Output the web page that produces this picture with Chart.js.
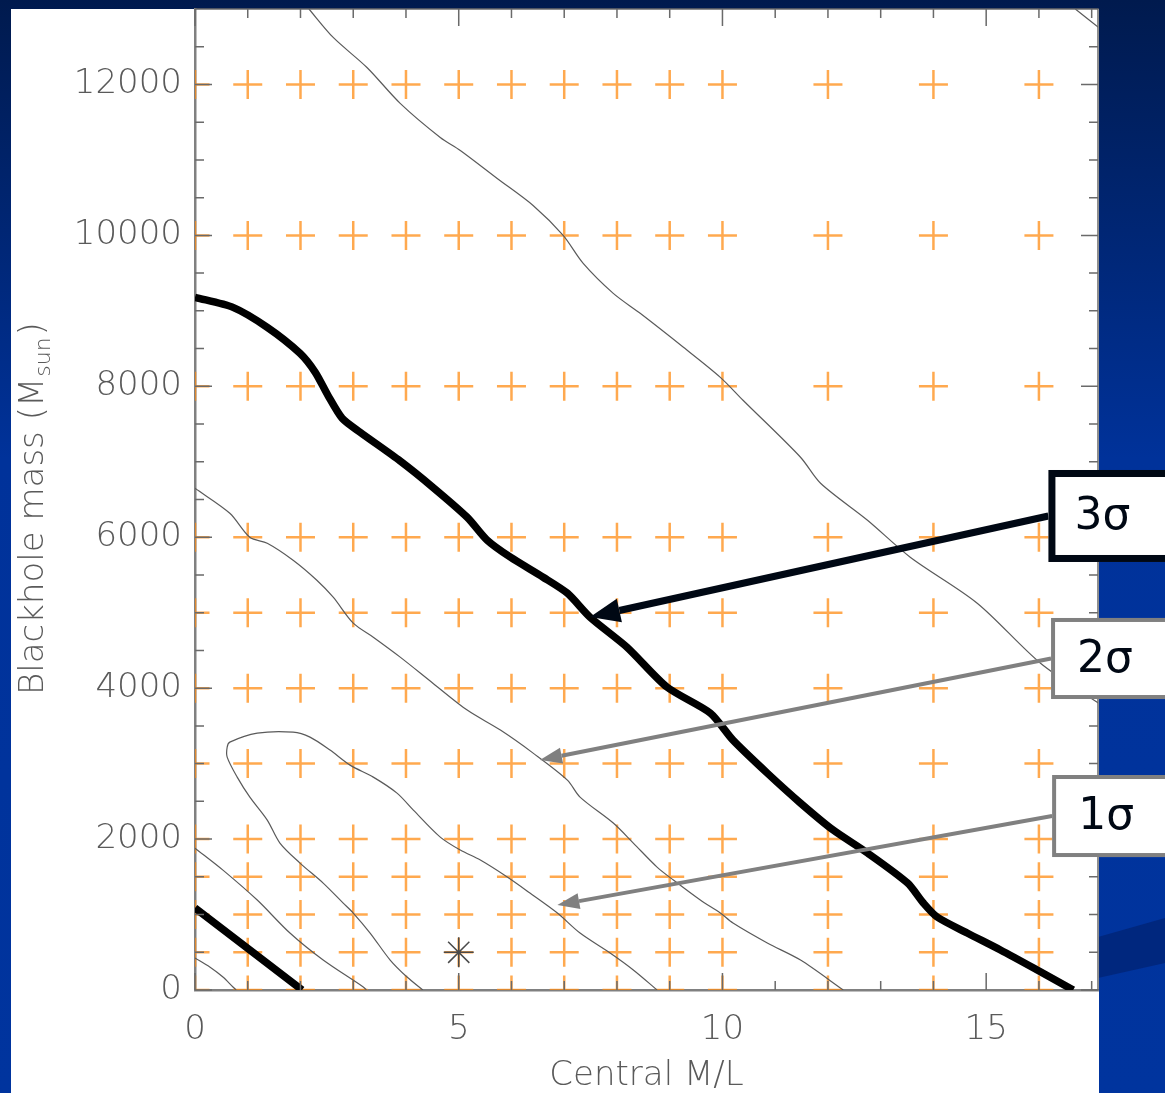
<!DOCTYPE html>
<html>
<head>
<meta charset="utf-8">
<title>Blackhole mass vs central M/L</title>
<script src="https://cdn.jsdelivr.net/npm/chart.js@4.4.1/dist/chart.umd.min.js"></script>
<style>
    html, body { margin: 0; padding: 0; background: #00339c; overflow: hidden; }
    #wrap { width: 1165px; height: 1093px; }
</style>
</head>
<body>
<div id="wrap"><canvas id="Contours" width="1165" height="1093"></canvas></div>
<script>
// model grid (orange crosses)
const grid_x = [0, 1, 2, 3, 4, 5, 6, 7, 8, 9, 10, 12, 14, 16];
const grid_y = [0, 500, 1000, 1500, 2000, 3000, 4000, 5000, 6000, 8000, 10000, 12000];

// best fit (asterisk)
const best_fit = [[5, 500]];

// contours as [M/L, M_bh]
const contour_outer = [
    [2.16, 13000], [2.62, 12623], [3.26, 12225], [3.89, 11750], [4.65, 11298], [5.03, 11126],
    [5.73, 10755], [6.41, 10397], [6.98, 10000], [7.36, 9629], [7.93, 9232], [8.44, 8967],
    [9.26, 8517], [9.96, 8119], [10.39, 7815], [11.48, 7060], [11.86, 6715], [12.75, 6225],
    [13.56, 5735], [14.83, 5126], [16.03, 4331], [17.13, 3801]
];
const contour_corner = [[16.69, 13000], [17.13, 12755]];
const contour_3sigma = [
    [0, 9179], [0.72, 9046], [1.37, 8781], [1.99, 8437], [2.28, 8185], [2.52, 7880],
    [2.79, 7576], [3.13, 7391], [3.89, 7010], [4.51, 6662], [5.16, 6265],
    [5.54, 5960], [5.98, 5735], [6.60, 5470], [7.06, 5258], [7.49, 4940], [8.19, 4543],
    [8.95, 4013], [9.77, 3669], [10.20, 3311], [10.85, 2874], [11.48, 2477], [12.10, 2119],
    [12.75, 1815], [13.51, 1417], [13.81, 1152], [14.07, 967], [14.64, 755], [15.27, 530],
    [15.90, 291], [16.65, 0]
];
const contour_3sigma_low = [[0, 1086], [1.04, 530], [2.03, 0]];
const contour_2sigma = [
    [0, 6649], [0.66, 6318], [1.04, 6000], [1.37, 5920], [1.86, 5695], [2.31, 5430],
    [2.62, 5205], [3.00, 4861], [3.38, 4675], [3.89, 4411], [4.51, 4066], [5.16, 3709],
    [5.79, 3444], [6.41, 3139], [7.06, 2781], [7.30, 2556], [7.93, 2212], [8.31, 1947],
    [8.76, 1629], [9.07, 1457], [9.58, 1192], [9.96, 1020], [10.20, 887], [10.85, 623],
    [11.48, 397], [12.29, 0]
];
const contour_1sigma = [
    [4.32, 0], [4.02, 172], [3.70, 397], [3.32, 755], [3.00, 1020], [2.81, 1152],
    [2.43, 1417], [1.99, 1682], [1.61, 1947], [1.37, 2252], [1.04, 2556], [0.80, 2821],
    [0.61, 3086], [0.61, 3219], [0.66, 3285], [1.18, 3404], [1.86, 3417], [2.18, 3351],
    [2.56, 3179], [2.94, 2980], [3.38, 2821], [3.83, 2609], [4.14, 2384], [4.65, 2026],
    [5.03, 1854], [5.41, 1722], [5.92, 1497], [6.35, 1285], [6.87, 1020], [7.30, 755],
    [7.87, 490], [8.31, 265], [8.76, 0]
];
const contour_inner = [[0, 1880], [0.53, 1589], [1.18, 1192], [1.80, 755], [2.43, 397], [3.19, 40], [3.25, 0]];
const contour_tiny = [[0, 424], [0.28, 305], [0.53, 172], [0.72, 40], [0.78, 0]];

// axes
const x_ticks = [0, 5, 10, 15];
const y_ticks = [0, 2000, 4000, 6000, 8000, 10000, 12000];
const x_range = [0, 17.12];
const y_range = [0, 13000];

// labels with arrows
const sigma_labels = ['3σ', '2σ', '1σ'];
const sigma_tips = [[7.49, 4943], [6.54, 3048], [6.87, 1126]];

let grid_points = [];
for (const gy of grid_y) {
    for (const gx of grid_x) {
        grid_points.push({x: gx, y: gy});
    }
}

const toXY = (arr) => arr.map(p => ({x: p[0], y: p[1]}));

function contour(data, width, color, tension) {
    return {
        data: toXY(data),
        showLine: true,
        borderColor: color,
        borderWidth: width,
        pointRadius: 0,
        tension: tension,
        borderJoinStyle: 'round',
        order: 1,
    }
}

const slideBackground = {
    id: 'slideBackground',
    beforeDraw(chart) {
        const {ctx, width, height, chartArea} = chart;
        ctx.save();
        const g = ctx.createLinearGradient(0, 0, 0, height);
        g.addColorStop(0, '#001a4e');
        g.addColorStop(0.42, '#00329a');
        g.addColorStop(1, '#00349e');
        ctx.fillStyle = g;
        ctx.fillRect(0, 0, width, height);
        // darker swoosh on the right
        ctx.fillStyle = 'rgba(0, 30, 100, 0.55)';
        ctx.beginPath();
        ctx.moveTo(chartArea.right, 937);
        ctx.lineTo(width, 918);
        ctx.lineTo(width, 963);
        ctx.lineTo(chartArea.right, 978);
        ctx.closePath();
        ctx.fill();
        ctx.fillStyle = '#ffffff';
        ctx.fillRect(11, chartArea.top, chartArea.right + 1 - 11, height - chartArea.top);
        ctx.restore();
    }
};

const frameTicks = {
    id: 'frameTicks',
    afterDatasetsDraw(chart) {
        const {ctx, chartArea: a, scales: {x, y}} = chart;
        ctx.save();
        ctx.strokeStyle = '#6a6a6a';
        ctx.lineWidth = 1.5;
        ctx.beginPath();
        ctx.moveTo(a.left, a.top);
        ctx.lineTo(a.right, a.top);
        ctx.lineTo(a.right, a.bottom);
        ctx.stroke();
        for (let v = 0; v <= x_range[1]; v += 1) {
            const px = x.getPixelForValue(v);
            const len = x_ticks.includes(v) ? 17 : 9;
            ctx.beginPath();
            ctx.moveTo(px, a.bottom);
            ctx.lineTo(px, a.bottom - len);
            ctx.moveTo(px, a.top);
            ctx.lineTo(px, a.top + len);
            ctx.stroke();
        }
        for (let v = 0; v < y_range[1]; v += 500) {
            const py = y.getPixelForValue(v);
            const len = y_ticks.includes(v) ? 17 : 9;
            ctx.beginPath();
            ctx.moveTo(a.left, py);
            ctx.lineTo(a.left + len, py);
            ctx.moveTo(a.right, py);
            ctx.lineTo(a.right - len, py);
            ctx.stroke();
        }
        ctx.restore();
    }
};

const yTitle = {
    id: 'yTitle',
    afterDraw(chart) {
        const {ctx, chartArea} = chart;
        ctx.save();
        ctx.translate(43, chartArea.bottom - 295);
        ctx.rotate(-Math.PI / 2);
        ctx.fillStyle = '#5a5a5a';
        ctx.textBaseline = 'alphabetic';
        ctx.textAlign = 'left';
        ctx.font = '200 34px "DejaVu Sans"';
        const main = 'Blackhole mass (M';
        ctx.fillText(main, 0, 0);
        let w = ctx.measureText(main).width;
        ctx.font = '200 22px "DejaVu Sans"';
        ctx.fillText('sun', w + 1, 7);
        w += ctx.measureText('sun').width + 3;
        ctx.font = '200 34px "DejaVu Sans"';
        ctx.fillText(')', w, 0);
        ctx.restore();
    }
};

const sigmaArrows = {
    id: 'sigmaArrows',
    afterDraw(chart, args, opts) {
        const {ctx, width, scales: {x, y}} = chart;
        ctx.save();
        opts.boxes.forEach((b, i) => {
            const left = x.getPixelForValue(b.left);
            const top = y.getPixelForValue(b.top);
            const bottom = y.getPixelForValue(b.bottom);
            const mid = (top + bottom) / 2;
            const tx = x.getPixelForValue(sigma_tips[i][0]);
            const ty = y.getPixelForValue(sigma_tips[i][1]);
            // arrow shaft
            const ang = Math.atan2(ty - mid, tx - left);
            const hx = tx - Math.cos(ang) * b.head;
            const hy = ty - Math.sin(ang) * b.head;
            ctx.strokeStyle = b.color;
            ctx.fillStyle = b.color;
            ctx.lineWidth = b.line;
            ctx.beginPath();
            ctx.moveTo(left, mid);
            ctx.lineTo(hx, hy);
            ctx.stroke();
            // arrow head
            const px = -Math.sin(ang) * b.half, py = Math.cos(ang) * b.half;
            ctx.beginPath();
            ctx.moveTo(tx, ty);
            ctx.lineTo(hx + px, hy + py);
            ctx.lineTo(hx - px, hy - py);
            ctx.closePath();
            ctx.fill();
            // label box
            ctx.fillStyle = '#ffffff';
            ctx.fillRect(left, top, width + 20 - left, bottom - top);
            ctx.lineWidth = b.border;
            ctx.strokeRect(left + b.border / 2, top + b.border / 2, width + 20 - left, bottom - top - b.border);
            ctx.fillStyle = '#000814';
            ctx.font = '44px "DejaVu Sans"';
            ctx.textAlign = 'center';
            ctx.textBaseline = 'middle';
            ctx.fillText(sigma_labels[i], left + 54, mid + 2);
        });
        ctx.restore();
    }
};

const tickFont = {family: '"DejaVu Sans"', size: 34, weight: '200', lineHeight: 1};

new Chart(
    document.getElementById('Contours'),
    {
        type: 'scatter',
        data: {
            datasets: [
                contour(contour_outer, 1.2, '#5a5a5a', 0.3),
                contour(contour_corner, 1.2, '#5a5a5a', 0.3),
                contour(contour_2sigma, 1.2, '#5a5a5a', 0.3),
                contour(contour_1sigma, 1.2, '#5a5a5a', 0.3),
                contour(contour_inner, 1.2, '#5a5a5a', 0.3),
                contour(contour_tiny, 1.2, '#5a5a5a', 0.3),
                contour(contour_3sigma, 7.5, '#000000', 0.25),
                contour(contour_3sigma_low, 7.5, '#000000', 0.25),
                {
                    data: toXY(best_fit),
                    pointStyle: 'star',
                    pointRadius: 15,
                    borderColor: '#4a4a4a',
                    borderWidth: 1.5,
                    order: 2,
                },
                {
                    data: grid_points,
                    pointStyle: 'cross',
                    pointRadius: 14.5,
                    borderColor: 'rgba(255, 140, 20, 0.75)',
                    borderWidth: 2.5,
                    order: 3,
                },
            ]
        },
        options: {
            responsive: false,
            animation: false,
            events: [],
            layout: {
                autoPadding: false,
                padding: {left: 11, top: 9, right: 67, bottom: 0}
            },
            scales: {
                x: {
                    type: 'linear',
                    min: x_range[0],
                    max: x_range[1],
                    afterBuildTicks: (scale) => {
                        scale.ticks = x_ticks.map(v => ({value: v}));
                    },
                    afterFit: (scale) => {
                        scale.height = 103;
                        scale.paddingLeft = 0;
                        scale.paddingRight = 0;
                    },
                    grid: {display: false, drawTicks: false},
                    border: {display: true, color: '#808080', width: 2.5},
                    ticks: {
                        autoSkip: false,
                        maxRotation: 0,
                        padding: 23,
                        color: '#5a5a5a',
                        font: tickFont,
                        callback: (value) => value.toString(),
                    },
                    title: {
                        display: true,
                        text: 'Central M/L',
                        color: '#5a5a5a',
                        font: {family: '"DejaVu Sans"', size: 34, weight: '200', lineHeight: 1},
                        padding: {top: 0, bottom: 0},
                    }
                },
                y: {
                    type: 'linear',
                    min: y_range[0],
                    max: y_range[1],
                    afterBuildTicks: (scale) => {
                        scale.ticks = y_ticks.map(v => ({value: v}));
                    },
                    afterFit: (scale) => {
                        scale.width = 184;
                        scale.paddingTop = 0;
                        scale.paddingBottom = 0;
                    },
                    grid: {display: false, drawTicks: false},
                    border: {display: true, color: '#808080', width: 2.5},
                    ticks: {
                        autoSkip: false,
                        padding: 13,
                        color: '#5a5a5a',
                        font: tickFont,
                        callback: (value) => value.toString(),
                    }
                }
            },
            plugins: {
                legend: {display: false},
                tooltip: {enabled: false},
                sigmaArrows: {
                    boxes: [
                        {left: 16.18, top: 6891, bottom: 5672, color: '#000814', line: 7, border: 7, head: 30, half: 12},
                        {left: 16.23, top: 4930, bottom: 3856, color: '#808080', line: 4, border: 4, head: 22, half: 8},
                        {left: 16.25, top: 2849, bottom: 1762, color: '#808080', line: 4, border: 4, head: 22, half: 8},
                    ]
                }
            }
        },
        plugins: [slideBackground, frameTicks, yTitle, sigmaArrows]
    }
);
</script>
</body>
</html>
